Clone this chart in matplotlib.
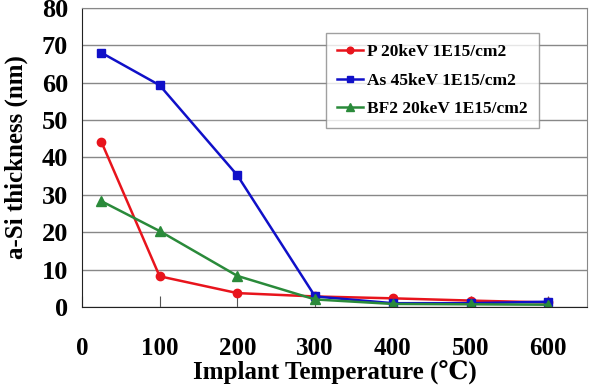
import matplotlib.pyplot as plt

# implant temperature (C) and a-Si thickness (nm)
temp = [25, 100, 200, 300, 400, 500, 600]
p_20kev = [44.2, 8.2, 3.7, 2.8, 2.3, 1.7, 1.2]
as_45kev = [68.0, 59.3, 35.2, 2.8, 1.0, 1.0, 1.4]
bf2_20kev = [28.3, 20.3, 8.3, 2.0, 0.8, 0.7, 0.6]
labels = ['P 20keV 1E15/cm2', 'As 45keV 1E15/cm2', 'BF2 20keV 1E15/cm2']

serif = ['Liberation Serif', 'DejaVu Serif']
plt.rcParams['font.family'] = serif
plt.rcParams['font.weight'] = 'bold'

fig = plt.figure(figsize=(5.89, 3.91), dpi=100)
ax = fig.add_axes([0.139, 0.215, 0.858, 0.765])

ax.plot(temp, p_20kev, color='#e8141c', marker='o', ms=6, lw=1.8, label=labels[0])
ax.plot(temp, as_45kev, color='#1010c8', marker='s', ms=5.5, lw=1.8, label=labels[1])
ax.plot(temp, bf2_20kev, color='#2a8a3a', marker='^', ms=6.5, lw=1.8, label=labels[2])

ax.set_xlim(0, 650)
ax.set_ylim(0, 80)
ax.set_xticks([0, 100, 200, 300, 400, 500, 600])
ax.set_yticks(range(0, 81, 10))
ax.yaxis.grid(True, color='#888888', lw=1)
ax.set_axisbelow(True)
ax.tick_params(axis='x', direction='in', length=8, pad=22, labelsize=18, color='#555555')
ax.tick_params(axis='y', length=0, pad=10, labelsize=19)
for t in ax.get_xticklabels() + ax.get_yticklabels():
    t.set_fontweight('bold')

for s in ['top', 'right']:
    ax.spines[s].set_color('#888888')
for s in ['left', 'bottom']:
    ax.spines[s].set_color('#222222')

ax.set_xlabel('Implant Temperature (\u2103)', fontsize=18, fontweight='bold', labelpad=0, family=serif)
ax.set_ylabel('a-Si thickness (nm)', fontsize=18, fontweight='bold', labelpad=10)

leg = ax.legend(loc='upper left', bbox_to_anchor=(0.483, 0.916), fontsize=12.5,
                frameon=True, fancybox=False, edgecolor='#888888', handlelength=1.5,
                handletextpad=0.2, labelspacing=0.7, borderpad=0.65, borderaxespad=0,
                markerscale=0.8)
leg.get_frame().set_linewidth(1.0)
for t in leg.get_texts():
    t.set_fontweight('bold')

fig.savefig('out.png', dpi=100)
